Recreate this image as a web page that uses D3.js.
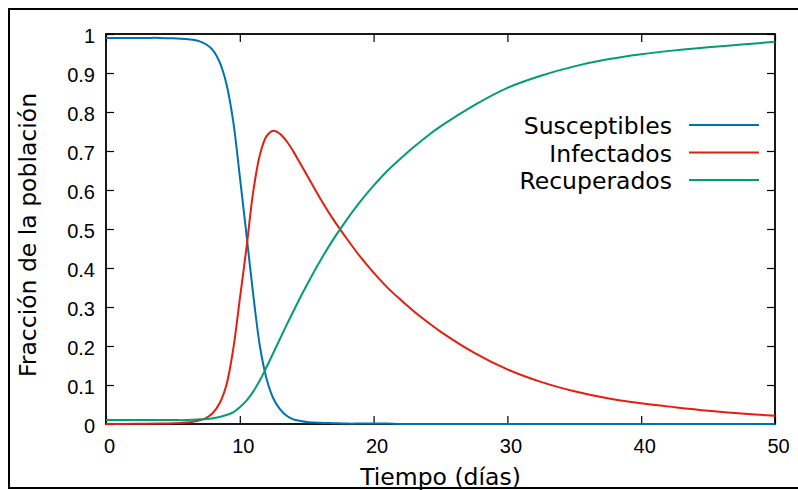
<!DOCTYPE html>
<html lang="es">
<head>
    <meta charset="UTF-8">
    <title>Modelo SIR</title>
    <script src="https://d3js.org/d3.v7.min.js"></script>
    <style>
        body { margin: 0; background: #fff; }
        svg { display: block; font-family: "DejaVu Sans", sans-serif; }
        .tick line { stroke: #000; stroke-width: 1.2; }
        .tick text { fill: #000; font-size: 20px; }
    </style>
</head>
<body>
    <svg id="chart" width="798" height="490"></svg>
    <script>
        // tiempo en días y fracción de la población en cada compartimento
        const days = [0, 1, 2, 3, 4, 5, 6, 6.5, 7, 7.5, 8, 8.5, 9, 9.5, 10, 10.5, 11, 11.5, 12, 12.5,
            13, 13.5, 14, 14.5, 15, 16, 17, 18, 19, 20, 21, 22, 23, 24, 25, 27.5, 30, 32.5, 35, 37.5,
            40, 42.5, 45, 47.5, 50];
        const susceptibles = [0.990, 0.990, 0.990, 0.990, 0.990, 0.989, 0.987, 0.985, 0.981, 0.973,
            0.958, 0.927, 0.872, 0.778, 0.635, 0.485, 0.333, 0.200, 0.116, 0.066,
            0.038, 0.021, 0.012, 0.008, 0.005, 0.003, 0.002, 0.001, 0.001, 0.001,
            0.001, 0, 0, 0, 0, 0, 0, 0, 0, 0, 0, 0, 0, 0, 0];
        const infectados = [0, 0.0002, 0.0004, 0.0007, 0.0012, 0.002, 0.004, 0.006, 0.0095, 0.016,
            0.029, 0.054, 0.100, 0.190, 0.320, 0.452, 0.595, 0.690, 0.738, 0.752,
            0.744, 0.725, 0.699, 0.669, 0.639, 0.579, 0.524, 0.475, 0.429, 0.388,
            0.351, 0.319, 0.289, 0.262, 0.237, 0.183, 0.140, 0.108, 0.084, 0.066,
            0.053, 0.043, 0.034, 0.027, 0.021];
        const recuperados = [0.010, 0.010, 0.010, 0.010, 0.010, 0.010, 0.010, 0.011, 0.012, 0.013,
            0.015, 0.018, 0.023, 0.030, 0.043, 0.060, 0.083, 0.112, 0.146, 0.182,
            0.218, 0.254, 0.289, 0.323, 0.356, 0.418, 0.474, 0.524, 0.570, 0.611,
            0.648, 0.680, 0.710, 0.738, 0.763, 0.817, 0.862, 0.893, 0.917, 0.935,
            0.948, 0.958, 0.966, 0.973, 0.980];

        const seriesNames = ["Susceptibles", "Infectados", "Recuperados"];
        const seriesColors = ["#0072b2", "#e51e10", "#009e73"];
        const xTicks = [0, 10, 20, 30, 40, 50];
        const yTicks = [0, 0.1, 0.2, 0.3, 0.4, 0.5, 0.6, 0.7, 0.8, 0.9, 1];

        const series = [susceptibles, infectados, recuperados].map((values, i) => ({
            name: seriesNames[i],
            color: seriesColors[i],
            points: days.map((t, j) => ({ t: t, v: values[j] }))
        }));

        const plotLeft = 106, plotRight = 775, plotTop = 34, plotBottom = 424;

        const svg = d3.select("#chart");

        const x = d3.scaleLinear().domain([0, 50]).range([plotLeft, plotRight]);
        const y = d3.scaleLinear().domain([0, 1]).range([plotBottom, plotTop]);
        const fmt = d3.format("~g");

        // ejes con marcas hacia dentro en los cuatro lados
        const gx = svg.append("g")
            .attr("transform", `translate(0,${plotBottom})`)
            .call(d3.axisBottom(x).tickValues(xTicks).tickSize(-8).tickFormat(fmt));
        gx.selectAll("text").attr("dy", null).attr("y", 29).attr("dx", 3);

        svg.append("g")
            .attr("transform", `translate(0,${plotTop})`)
            .call(d3.axisTop(x).tickValues(xTicks).tickSize(-8).tickFormat(""));

        const gy = svg.append("g")
            .attr("transform", `translate(${plotLeft},0)`)
            .call(d3.axisLeft(y).tickValues(yTicks).tickSize(-8).tickFormat(fmt));
        gy.selectAll("text").attr("x", -11).attr("dy", "0.4em");

        svg.append("g")
            .attr("transform", `translate(${plotRight},0)`)
            .call(d3.axisRight(y).tickValues(yTicks).tickSize(-8).tickFormat(""));

        svg.selectAll(".domain").remove();

        svg.append("rect")
            .attr("x", plotLeft)
            .attr("y", plotTop)
            .attr("width", plotRight - plotLeft)
            .attr("height", plotBottom - plotTop)
            .attr("fill", "none")
            .attr("stroke", "#000")
            .attr("stroke-width", 1.8);

        const line = d3.line()
            .x(d => x(d.t))
            .y(d => y(d.v))
            .curve(d3.curveCatmullRom.alpha(0.5));

        svg.selectAll(".serie")
            .data(series)
            .enter()
            .append("path")
            .attr("class", "serie")
            .attr("d", d => line(d.points))
            .attr("fill", "none")
            .attr("stroke", d => d.color)
            .attr("stroke-width", 2);

        // leyenda
        const legend = svg.selectAll(".legend")
            .data(series)
            .enter()
            .append("g")
            .attr("class", "legend")
            .attr("transform", (d, i) => `translate(0,${125 + i * 27.5})`);

        legend.append("text")
            .attr("x", 672)
            .attr("y", 9)
            .attr("text-anchor", "end")
            .attr("font-size", "23.5px")
            .text(d => d.name);

        legend.append("line")
            .attr("x1", 689)
            .attr("x2", 759)
            .attr("stroke", d => d.color)
            .attr("stroke-width", 2);

        svg.append("text")
            .attr("x", (plotLeft + plotRight) / 2)
            .attr("y", 485)
            .attr("text-anchor", "middle")
            .attr("font-size", "23.5px")
            .text("Tiempo (días)");

        svg.append("text")
            .attr("transform", "translate(36,235) rotate(-90)")
            .attr("text-anchor", "middle")
            .attr("font-size", "23.5px")
            .text("Fracción de la población");

        // marco exterior
        svg.append("rect")
            .attr("x", 9)
            .attr("y", 9)
            .attr("width", 800)
            .attr("height", 479)
            .attr("fill", "none")
            .attr("stroke", "#000")
            .attr("stroke-width", 2);
    </script>
</body>
</html>
